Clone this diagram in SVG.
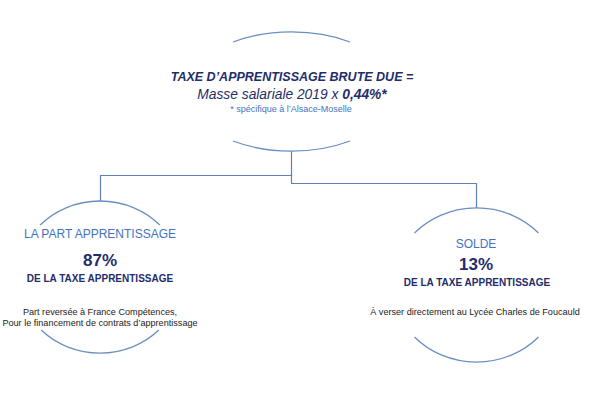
<svg xmlns="http://www.w3.org/2000/svg" width="600" height="400" viewBox="0 0 600 400">
<style>
.arc{fill:none;stroke:#6b8fc2;stroke-width:1.3}
.con{fill:none;stroke:#5f82b6;stroke-width:1.2}
text{font-family:"Liberation Sans",Arial,sans-serif;text-anchor:middle}
.blue{fill:#4472c4}
.navy{fill:#1f2d6b}
.pct{font-size:17px;font-weight:bold}
.sub{font-size:10px;font-weight:bold}
.small{font-size:9.1px;fill:#222}
.head{font-size:12px}
</style>
<rect width="600" height="400" fill="#ffffff"/>
<g id="connectors">
<path class="con" d="M291.5,151 V175.5 H100.5 V201"/>
<path class="con" d="M291.5,175 V183.5 H476.5 V208"/>
</g>
<g id="top">
<path class="arc" d="M233,42 A105,59.5 0 0 1 350,42"/>
<path class="arc" d="M233,141 A105,59.5 0 0 0 350,141"/>
<text x="292" y="81" class="navy" font-size="12.5" font-weight="bold" font-style="italic">TAXE D’APPRENTISSAGE BRUTE DUE =</text>
<text x="292" y="99" class="navy" font-size="13.8" font-style="italic">Masse salariale 2019 x <tspan font-weight="bold">0,44%*</tspan></text>
<text x="291" y="112" class="blue" font-size="9">* spécifique à l’Alsace-Moselle</text>
</g>
<g id="left">
<path class="arc" d="M40.2,225 A82,76 0 0 1 159.8,225"/>
<path class="arc" d="M41.2,330 A82,76 0 0 0 158.8,330"/>
<text x="100" y="238" class="blue head">LA PART APPRENTISSAGE</text>
<text x="100" y="266" class="navy pct">87%</text>
<text x="100" y="282" class="navy sub">DE LA TAXE APPRENTISSAGE</text>
<text x="100" y="315" class="small">Part reversée à France Compétences,</text>
<text x="100" y="326" class="small">Pour le financement de contrats d’apprentissage</text>
</g>
<g id="right">
<path class="arc" d="M414.5,233 A84,77 0 0 1 538.5,233"/>
<path class="arc" d="M414.5,337 A84,77 0 0 0 538.5,337"/>
<text x="476" y="248" class="blue head">SOLDE</text>
<text x="476" y="270" class="navy pct">13%</text>
<text x="477" y="286" class="navy sub">DE LA TAXE APPRENTISSAGE</text>
<text x="475" y="315" class="small">À verser directement au Lycée Charles de Foucauld</text>
</g>
</svg>
